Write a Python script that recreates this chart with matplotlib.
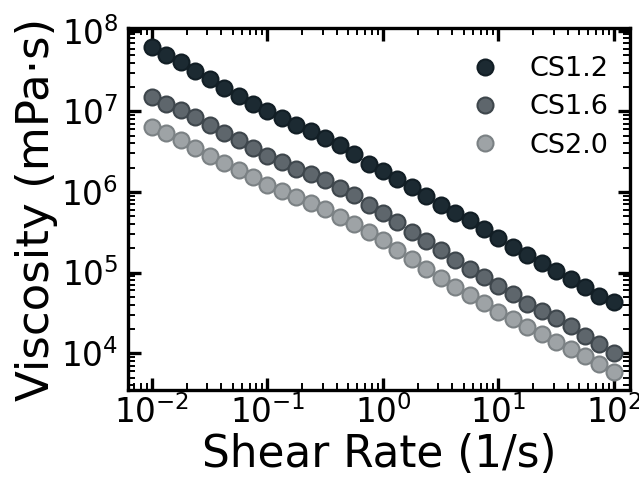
import numpy as np
import matplotlib
matplotlib.use("Agg")
import matplotlib.pyplot as plt
from matplotlib.ticker import LogLocator, NullFormatter

# Shear rates: 8 points per decade from 0.01 to 100 1/s
shear_rate = [0.01, 0.0133, 0.0178, 0.0237, 0.0316, 0.0422, 0.0562, 0.075,
              0.1, 0.133, 0.178, 0.237, 0.316, 0.422, 0.562, 0.75,
              1.0, 1.33, 1.78, 2.37, 3.16, 4.22, 5.62, 7.5,
              10.0, 13.3, 17.8, 23.7, 31.6, 42.2, 56.2, 75.0, 100.0]

# Viscosity (mPa·s)
cs12 = [6.30e7, 5.06e7, 4.09e7, 3.17e7, 2.55e7, 1.97e7, 1.55e7, 1.23e7,
        1.00e7, 8.26e6, 6.70e6, 5.69e6, 4.71e6, 3.78e6, 2.93e6, 2.24e6,
        1.81e6, 1.43e6, 1.15e6, 8.79e5, 6.80e5, 5.46e5, 4.47e5, 3.47e5,
        2.68e5, 2.06e5, 1.67e5, 1.31e5, 1.04e5, 8.36e4, 6.57e4, 5.18e4, 4.28e4]
cs16 = [1.51e7, 1.25e7, 1.03e7, 8.50e6, 6.84e6, 5.44e6, 4.36e6, 3.50e6,
        2.79e6, 2.35e6, 1.93e6, 1.65e6, 1.42e6, 1.13e6, 9.05e5, 6.80e5,
        5.56e5, 4.22e5, 3.17e5, 2.46e5, 1.91e5, 1.45e5, 1.11e5, 8.75e4,
        6.80e4, 5.43e4, 4.12e4, 3.37e4, 2.74e4, 2.20e4, 1.65e4, 1.30e4, 1.02e4]
cs20 = [6.38e6, 5.43e6, 4.36e6, 3.50e6, 2.79e6, 2.31e6, 1.85e6, 1.53e6,
        1.23e6, 1.04e6, 8.55e5, 7.26e5, 6.18e5, 4.96e5, 4.03e5, 3.17e5,
        2.57e5, 1.93e5, 1.49e5, 1.11e5, 8.60e4, 6.56e4, 5.33e4, 4.18e4,
        3.28e4, 2.66e4, 2.09e4, 1.73e4, 1.36e4, 1.13e4, 9.31e3, 7.41e3, 5.77e3]

series_labels = ["CS1.2", "CS1.6", "CS2.0"]
face_colors = ["#1c2a32", "#5e666c", "#9ea3a6"]
edge_colors = ["#121e25", "#3e464c", "#7b8184"]

fig = plt.figure(figsize=(6.39, 4.8), dpi=100)
ax = fig.add_axes([0.2003, 0.1875, 0.7857, 0.7542])

for y, lab, fc, ec in zip([cs12, cs16, cs20], series_labels, face_colors, edge_colors):
    ax.plot(shear_rate, y, linestyle="none", marker="o", markersize=11.5,
            markerfacecolor=fc, markeredgecolor=ec, markeredgewidth=1.5,
            label=lab)

ax.set_xscale("log")
ax.set_yscale("log")
ax.set_xlim(0.0062, 138)
ax.set_ylim(3.5e3, 1.08e8)

ax.xaxis.set_major_locator(LogLocator(base=10, numticks=10))
ax.xaxis.set_minor_locator(LogLocator(base=10, subs=np.arange(2, 10), numticks=20))
ax.yaxis.set_major_locator(LogLocator(base=10, numticks=10))
ax.yaxis.set_minor_locator(LogLocator(base=10, subs=np.arange(2, 10), numticks=20))
ax.xaxis.set_minor_formatter(NullFormatter())
ax.yaxis.set_minor_formatter(NullFormatter())

for s in ax.spines.values():
    s.set_linewidth(2.4)
ax.tick_params(which="major", direction="in", length=9, width=2.4,
               top=True, right=True, labelsize=23.5)
ax.tick_params(axis="x", which="major", pad=4)
ax.tick_params(axis="y", which="major", pad=7)
ax.tick_params(which="minor", direction="in", length=5, width=1.4,
               top=True, right=True)

ax.set_xlabel("Shear Rate (1/s)", fontsize=31.5, labelpad=2)
ax.set_ylabel("Viscosity (mPa·s)", fontsize=32.5, labelpad=2)

ax.legend(loc="upper right", bbox_to_anchor=(1.02, 1.008), frameon=False,
          fontsize=19.5, handletextpad=1.05, labelspacing=0.45,
          borderaxespad=0.75, handlelength=1.2)

fig.savefig("out.png", dpi=100)
